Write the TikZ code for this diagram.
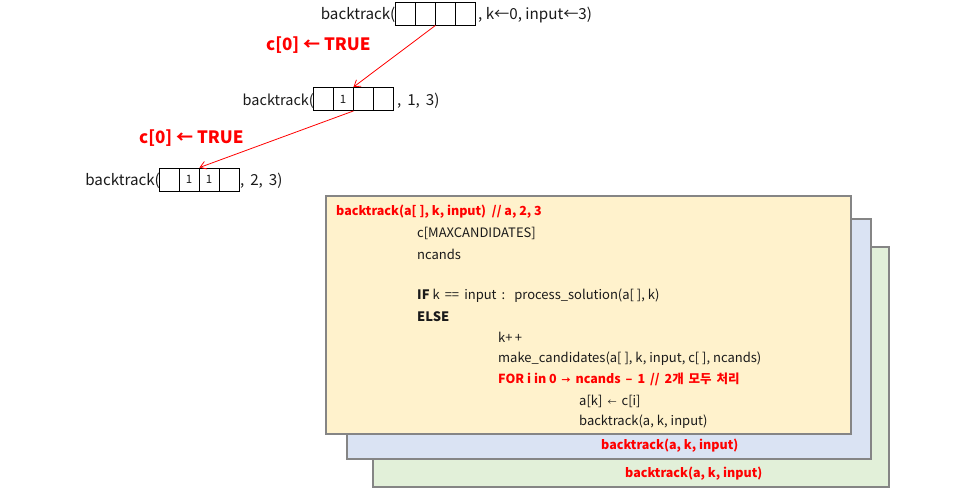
\documentclass[tikz,border=0pt]{standalone}
\usepackage{fontspec}
\setmainfont{Noto Sans CJK KR}
\usetikzlibrary{arrows.meta}
\definecolor{boxline}{HTML}{858585}
\definecolor{yelfill}{HTML}{FFF2CC}
\definecolor{bluefill}{HTML}{DAE3F3}
\definecolor{greenfill}{HTML}{E2F0D9}
\definecolor{redtxt}{HTML}{FF0000}
\definecolor{txt}{HTML}{1A1A1A}
\tikzset{
  cell/.style={draw=black, line width=0.9pt, minimum width=20pt, minimum height=23pt, inner sep=0pt, font=\fontsize{11.5}{13}\selectfont, text=txt},
  lbl/.style={inner sep=0pt, font=\fontsize{15.2}{17}\selectfont, text=txt},
  redlbl/.style={inner sep=0pt, font=\fontsize{17}{19}\selectfont\bfseries, text=redtxt},
  code/.style={inner sep=0pt, anchor=west, font=\fontsize{13}{15}\selectfont, text=txt},
  redcode/.style={code, font=\fontsize{12.5}{15}\selectfont\bfseries, text=redtxt},
  card/.style={draw=boxline, line width=2pt},
  callarrow/.style={draw=redtxt, line width=0.8pt, -{Straight Barb[length=6pt,width=8pt]}}
}
\begin{document}
\begin{tikzpicture}[x=1pt,y=-1pt]
\useasboundingbox (0,0) rectangle (962,496);
% top array
\node[cell] (a1) at (405,13.5) {};
\node[cell] (a2) at (425,13.5) {};
\node[cell] (a3) at (445,13.5) {};
\node[cell] (a4) at (465.5,13.5) {};
\node[lbl, anchor=east] (ta) at ([xshift=1pt,yshift=-1.5pt]a1.west) {backtrack(};
\node[lbl, anchor=west] (tb) at ([xshift=2pt,yshift=-1.5pt]a4.east) {, k←0, input←3)};
% middle array
\node[cell] (b1) at (323,99) {};
\node[cell] (b2) at (343,99) {1};
\node[cell] (b3) at (363,99) {};
\node[cell] (b4) at (383.5,99) {};
\node[lbl, anchor=east, font=\fontsize{14.5}{17}\selectfont] (ma) at ([xshift=1.5pt,yshift=-2pt]b1.west) {backtrack(};
\node[lbl, anchor=west] (mb) at ([xshift=3pt,yshift=-2pt]b4.east) {, \,1, \,3)};
% bottom array
\node[cell] (c1) at (169,179.5) {};
\node[cell] (c2) at (189,179.5) {1};
\node[cell] (c3) at (209,179.5) {1};
\node[cell] (c4) at (229.5,179.5) {};
\node[lbl, anchor=east] (ba) at ([xshift=1.5pt,yshift=-1.5pt]c1.west) {backtrack(};
\node[lbl, anchor=west] (bb) at ([xshift=0pt,yshift=-1.5pt]c4.east) {, \,2, \,3)};
% arrows
\draw[callarrow] (a2.south east) -- (b2.north east);
\draw[callarrow] (b2.south east) -- (c2.north east);
\node[redlbl, anchor=west] (l1) at (266,45) {c[0] ← TRUE};
\node[redlbl, anchor=west] (l2) at (139,138) {c[0] ← TRUE};
% stacked cards
\draw[card, fill=greenfill] (373,247) rectangle (889,487);
\draw[card, fill=bluefill] (347,219) rectangle (871,459);
\draw[card, fill=yelfill] (326,196) rectangle (851,434);
\node[redcode] (t0) at (336,212) {backtrack(a[ ], k, input)\ \ // a, 2, 3};
\node[code] (t1) at (417,233) {c[MAXCANDIDATES]};
\node[code] (t2) at (417,254) {ncands};
\node[code] (t3) at (417,296) {\textbf{IF} k\ \,==\ \,input\ \,:\hspace{9pt}process\_solution(a[ ], k)};
\node[code] (t4) at (417,316.5) {\textbf{ELSE}};
\node[code] (t5) at (498,337.5) {k+\,+};
\node[code] (t6) at (498,358.5) {make\_candidates(a[ ], k, input, c[ ], ncands)};
\node[redcode] (t7) at (498,379.5) {FOR i in 0 \,{\fontsize{9}{10}\selectfont →}\, ncands \,–\, 1 \,//\, 2개 \,모두 \,처리};
\node[code] (t8) at (579,401) {a[k] \,{\fontsize{9}{10}\selectfont ←}\, c[i]};
\node[code] (t9) at (579,422) {backtrack(a, k, input)};
\node[redcode] (u1) at (601,445.5) {backtrack(a, k, input)};
\node[redcode] (u2) at (625,473.5) {backtrack(a, k, input)};
\end{tikzpicture}
\end{document}
